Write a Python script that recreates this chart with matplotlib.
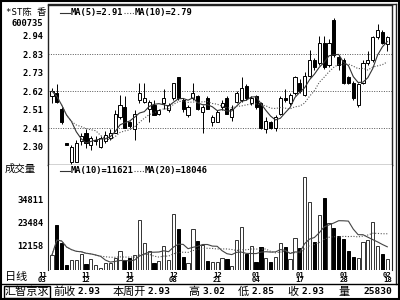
import numpy as np
import pandas as pd
import matplotlib
matplotlib.use('Agg')
import matplotlib.pyplot as plt
from matplotlib.patches import Rectangle
from matplotlib.lines import Line2D

# values
stock_name = '*ST陈 香'
stock_code = '600735'

opens = [2.59, 2.61, 2.52, 2.32, 2.21, 2.21, 2.33, 2.38, 2.31, 2.33,
         2.30, 2.33, 2.35, 2.38, 2.47, 2.53, 2.44, 2.40, 2.57, 2.56,
         2.52, 2.54, 2.49, 2.55, 2.51, 2.58, 2.70, 2.57, 2.48, 2.58,
         2.59, 2.50, 2.58, 2.44, 2.44, 2.53, 2.58, 2.47, 2.56, 2.57,
         2.65, 2.55, 2.59, 2.55, 2.40, 2.44, 2.41, 2.49, 2.58, 2.55,
         2.61, 2.67, 2.60, 2.71, 2.80, 2.78, 2.90, 2.77, 3.03, 2.82,
         2.80, 2.70, 2.67, 2.54, 2.67, 2.78, 2.80, 2.93, 2.96, 2.89]
highs = [2.64, 2.66, 2.53, 2.32, 2.31, 2.34, 2.38, 2.40, 2.36, 2.36,
         2.36, 2.39, 2.40, 2.51, 2.60, 2.59, 2.45, 2.51, 2.67, 2.67,
         2.57, 2.57, 2.52, 2.63, 2.55, 2.67, 2.70, 2.58, 2.54, 2.67,
         2.60, 2.54, 2.59, 2.48, 2.51, 2.57, 2.59, 2.54, 2.62, 2.70,
         2.66, 2.59, 2.60, 2.56, 2.47, 2.45, 2.48, 2.59, 2.63, 2.61,
         2.71, 2.69, 2.73, 2.86, 2.81, 2.94, 2.94, 2.92, 3.04, 2.83,
         2.81, 2.71, 2.68, 2.67, 2.80, 2.85, 2.94, 3.01, 2.97, 2.94]
lows = [2.55, 2.55, 2.43, 2.31, 2.20, 2.21, 2.31, 2.29, 2.28, 2.31,
        2.29, 2.32, 2.34, 2.38, 2.46, 2.41, 2.41, 2.34, 2.55, 2.55,
        2.44, 2.48, 2.48, 2.52, 2.50, 2.57, 2.57, 2.50, 2.47, 2.57,
        2.51, 2.38, 2.52, 2.42, 2.44, 2.51, 2.49, 2.45, 2.55, 2.56,
        2.57, 2.54, 2.52, 2.40, 2.38, 2.40, 2.39, 2.48, 2.56, 2.54,
        2.60, 2.61, 2.59, 2.70, 2.74, 2.77, 2.75, 2.76, 2.82, 2.74,
        2.66, 2.66, 2.57, 2.53, 2.66, 2.77, 2.79, 2.92, 2.89, 2.85]
closes = [2.62, 2.56, 2.44, 2.31, 2.30, 2.32, 2.36, 2.32, 2.35, 2.34,
          2.35, 2.37, 2.38, 2.49, 2.54, 2.41, 2.42, 2.49, 2.61, 2.58,
          2.56, 2.48, 2.51, 2.58, 2.54, 2.67, 2.58, 2.52, 2.53, 2.61,
          2.52, 2.53, 2.52, 2.47, 2.50, 2.55, 2.49, 2.52, 2.61, 2.64,
          2.58, 2.58, 2.53, 2.41, 2.45, 2.41, 2.47, 2.58, 2.57, 2.60,
          2.70, 2.62, 2.71, 2.80, 2.76, 2.90, 2.76, 2.90, 2.83, 2.77,
          2.67, 2.67, 2.58, 2.66, 2.78, 2.80, 2.93, 2.97, 2.90, 2.93]
volumes = [7583, 22355, 13492, 2659, 5121, 5121, 8075, 3151, 5613, 2659,
           1182, 3644, 3644, 6106, 9553, 5121, 6106, 7583, 24817, 13492,
           9553, 3644, 4629, 12015, 5121, 27771, 20385, 6598, 3644, 20385,
           14477, 12507, 4629, 4136, 4136, 6106, 5613, 2167, 14969, 21370,
           8075, 12015, 4136, 11522, 6106, 4136, 6598, 13492, 11522, 5613,
           15954, 11030, 45990, 33680, 13984, 27279, 35650, 23340, 20878, 16939,
           15461, 9553, 6598, 6106, 13984, 14969, 23832, 12015, 8075, 5613]

date_pos = [-2, 7, 16, 25, 34, 42, 51, 60, 69]
date_top = ['11', '11', '11', '12', '12', '01', '01', '01', '02']
date_bottom = ['03', '12', '25', '08', '21', '04', '17', '28', '18']
price_ticks = [2.30, 2.4067, 2.5133, 2.62, 2.7267, 2.8333, 2.94]
vol_ticks = [12158, 23484, 34811]

info_names = ['前收', '本周开', '高', '低', '收', '量']
info_values = ['2.93', '2.93', '3.02', '2.85', '2.93', '25830']

MONO = ['DejaVu Sans Mono', 'Noto Sans CJK SC']
CJK = ['Noto Sans CJK SC', 'DejaVu Sans']
W, H = 400, 300


def fx(x):
    return x / W


def fy(y):
    return 1 - y / H


df = pd.DataFrame({'o': opens, 'h': highs, 'l': lows, 'c': closes, 'v': volumes})
df['ma5'] = df['c'].rolling(5, min_periods=1).mean()
df['ma10'] = df['c'].rolling(10, min_periods=1).mean()
df['vma10'] = df['v'].rolling(10, min_periods=1).mean()
df['vma20'] = df['v'].rolling(20, min_periods=1).mean()
idx = np.arange(len(df))
down = df['c'] < df['o']

fig = plt.figure(figsize=(4, 3), dpi=100)
fig.patch.set_facecolor('white')

# price panel
ax = fig.add_axes([fx(48), fy(165), fx(392) - fx(48), fy(5) - fy(165)])
ax.set_xlim(-0.82, 69.97)
ax.set_ylim(2.1943, 3.117)
for p in price_ticks[1::2]:
    ax.axhline(p, color='#555555', lw=0.7, ls=(0, (1, 1.5)), zorder=0)

bw = 0.64
for i, r in df.iterrows():
    ax.vlines(i, r['l'], r['h'], color='black', lw=0.7, zorder=2)
    lo, hi = min(r['o'], r['c']), max(r['o'], r['c'])
    fc = 'black' if r['c'] < r['o'] else 'white'
    ax.add_patch(Rectangle((i - bw / 2, lo), bw, max(hi - lo, 0.004),
                           facecolor=fc, edgecolor='black', lw=0.7, zorder=3))
ax.plot(idx, df['ma5'], color='#333333', lw=0.8, zorder=4)
ax.plot(idx, df['ma10'], color='#555555', lw=0.8, ls=(0, (1, 1.5)), zorder=4)

ax.set_xticks([])
ax.set_yticks(price_ticks)
ax.set_yticklabels([f'{p:.2f}' for p in price_ticks], family=MONO,
                   fontsize=6.3, fontweight='bold')
ax.tick_params(axis='y', length=0, pad=3)
for s in ['left', 'right', 'top', 'bottom']:
    ax.spines[s].set_linewidth(1.0)
    ax.spines[s].set_color('#222222')

# volume panel
vax = fig.add_axes([fx(48), fy(270.4), fx(392) - fx(48), fy(165) - fy(270.4)])
vax.set_xlim(-0.82, 69.97)
vax.set_ylim(0, 51899)
vw = 0.66
vax.bar(idx[~down], df['v'][~down], width=vw, facecolor='white',
        edgecolor='#333333', lw=0.7, zorder=2)
vax.bar(idx[down], df['v'][down], width=vw, facecolor='black',
        edgecolor='black', lw=0.7, zorder=2)
vax.plot(idx, df['vma10'], color='#444444', lw=0.8, zorder=3)
vax.plot(idx, df['vma20'], color='#555555', lw=0.8, ls=(0, (1, 1.5)), zorder=3)
vax.set_xticks([])
vax.set_yticks(vol_ticks)
vax.set_yticklabels([str(v) for v in vol_ticks], family=MONO,
                    fontsize=6.3, fontweight='bold')
vax.tick_params(axis='y', length=0, pad=3)
for s in ['top', 'bottom']:
    vax.spines[s].set_visible(False)
for s in ['left', 'right']:
    vax.spines[s].set_color('#222222')

# date labels, two short rows under the bars
blend = matplotlib.transforms.blended_transform_factory(vax.transData, fig.transFigure)
for pos, top, bot in zip(date_pos, date_top, date_bottom):
    vax.text(pos, fy(275), top, transform=blend, ha='center', va='center',
             fontsize=5.2, family=MONO, fontweight='bold', clip_on=False)
    vax.text(pos, fy(280.5), bot, transform=blend, ha='center', va='center',
             fontsize=5.2, family=MONO, fontweight='bold', clip_on=False)

# legends
fig.add_artist(Line2D([fx(60), fx(70)], [fy(13), fy(13)], color='#333333', lw=0.8))
fig.text(fx(71), fy(13), f"MA(5)={df['ma5'].iloc[-1]:.2f}", family=MONO,
         fontsize=6.3, fontweight='bold', va='center')
fig.add_artist(Line2D([fx(124), fx(134)], [fy(13), fy(13)], color='#555555',
                      lw=0.8, ls=(0, (1, 1.5))))
fig.text(fx(135), fy(13), f"MA(10)={df['ma10'].iloc[-1]:.2f}", family=MONO,
         fontsize=6.3, fontweight='bold', va='center')

fig.add_artist(Line2D([fx(60), fx(70)], [fy(171), fy(171)], color='#333333', lw=0.8))
fig.text(fx(71), fy(171), f"MA(10)={df['vma10'].iloc[-1]:.0f}", family=MONO,
         fontsize=6.3, fontweight='bold', va='center')
fig.add_artist(Line2D([fx(134), fx(144)], [fy(171), fy(171)], color='#555555',
                      lw=0.8, ls=(0, (1, 1.5))))
fig.text(fx(145), fy(171), f"MA(20)={df['vma20'].iloc[-1]:.0f}", family=MONO,
         fontsize=6.3, fontweight='bold', va='center')

# left labels
fig.text(fx(6), fy(12), stock_name, family=MONO, fontsize=6.6, va='center')
fig.text(fx(12), fy(23), stock_code, family=MONO, fontsize=6.3,
         fontweight='bold', va='center')
fig.text(fx(5), fy(169), '成交量', family=CJK, fontsize=7.5, va='center')
fig.text(fx(5), fy(277), '日线', family=CJK, fontsize=8, va='center')

# frame
fig.add_artist(Rectangle((0.002, 0.003), 0.995, 0.994, transform=fig.transFigure,
                         fill=False, edgecolor='black', lw=1.5))
fig.add_artist(Line2D([fx(48), fx(395.5)], [fy(3.5), fy(3.5)], color='#222222', lw=1.0))
fig.add_artist(Line2D([fx(395.5), fx(395.5)], [fy(3.5), fy(284)], color='#222222', lw=1.0))
fig.add_artist(Line2D([0, 1], [fy(284), fy(284)], color='black', lw=1.0))

# info bar
fig.add_artist(Rectangle((fx(4), fy(297.5)), fx(50) - fx(4), fy(285.5) - fy(297.5),
                         transform=fig.transFigure, fill=False,
                         edgecolor='black', lw=1.0))
fig.text(fx(27), fy(291.5), '汇智京求', family=CJK, fontsize=8,
         ha='center', va='center')
name_x = [53, 113, 188, 238, 287, 338]
value_right = [100, 170, 225, 275, 325, 392]
for n, v, nx, vx in zip(info_names, info_values, name_x, value_right):
    fig.text(fx(nx), fy(291.5), n, family=CJK, fontsize=8, va='center')
    fig.text(fx(vx), fy(291.5), v, family=MONO, fontsize=6.8, fontweight='bold',
             ha='right', va='center')

fig.savefig('out.png', dpi=100)
